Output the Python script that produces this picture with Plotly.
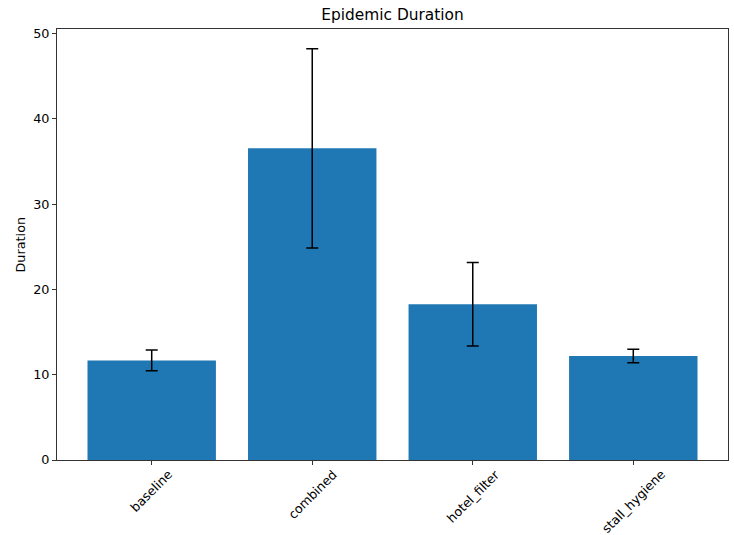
import plotly.graph_objects as go

# Mean epidemic duration per scenario, with the spread shown as error bars
scenarios = ["baseline", "combined", "hotel_filter", "stall_hygiene"]
mean_duration = [11.68, 36.55, 18.27, 12.2]
duration_err = [1.22, 11.69, 4.9, 0.78]

FONT = "DejaVu Sans"
BAR_BLUE = "#1f77b4"

fig = go.Figure()
fig.add_trace(go.Bar(
    x=scenarios,
    y=mean_duration,
    width=0.8,
    marker=dict(color=BAR_BLUE, line=dict(width=0)),
    error_y=dict(type="data", array=duration_err, visible=True,
                 color="black", thickness=1.5, width=6),
    showlegend=False,
))

# Rotated category labels, centred under each tick
for name in scenarios:
    fig.add_annotation(
        x=name, y=0, xref="x", yref="paper",
        text=name, textangle=-45, showarrow=False,
        xanchor="center", yanchor="top", yshift=-4,
        font=dict(family=FONT, size=12.6, color="black"),
    )

# Vertical axis label
fig.add_annotation(
    x=0, y=0.5, xref="paper", yref="paper",
    text="Duration", textangle=-90, showarrow=False,
    xanchor="center", yanchor="middle", xshift=-37,
    font=dict(family=FONT, size=12.8, color="black"),
)

fig.update_layout(
    width=734, height=535,
    margin=dict(l=57, r=6, t=29, b=75),
    paper_bgcolor="white", plot_bgcolor="white",
    font=dict(family=FONT, size=12.8, color="black"),
    title=dict(text="Epidemic Duration", x=0.5, xref="paper", xanchor="center",
               y=1 - 15 / 535, yref="container", yanchor="middle",
               font=dict(family=FONT, size=15.4, color="black")),
    bargap=0.2,
)
fig.update_xaxes(
    range=[-0.59, 3.59], showgrid=False, zeroline=False,
    showline=True, linecolor="#333", linewidth=1, mirror=True,
    ticks="outside", ticklen=4, tickwidth=1, tickcolor="#333",
    showticklabels=False,
)
fig.update_yaxes(
    range=[0, 50.55], tickvals=[0, 10, 20, 30, 40, 50],
    showgrid=False, zeroline=False,
    showline=True, linecolor="#333", linewidth=1, mirror=True,
    ticks="outside", ticklen=4, tickwidth=1, tickcolor="#333",
    tickfont=dict(family=FONT, size=12.8, color="black"),
)

fig.write_html("out.html")
